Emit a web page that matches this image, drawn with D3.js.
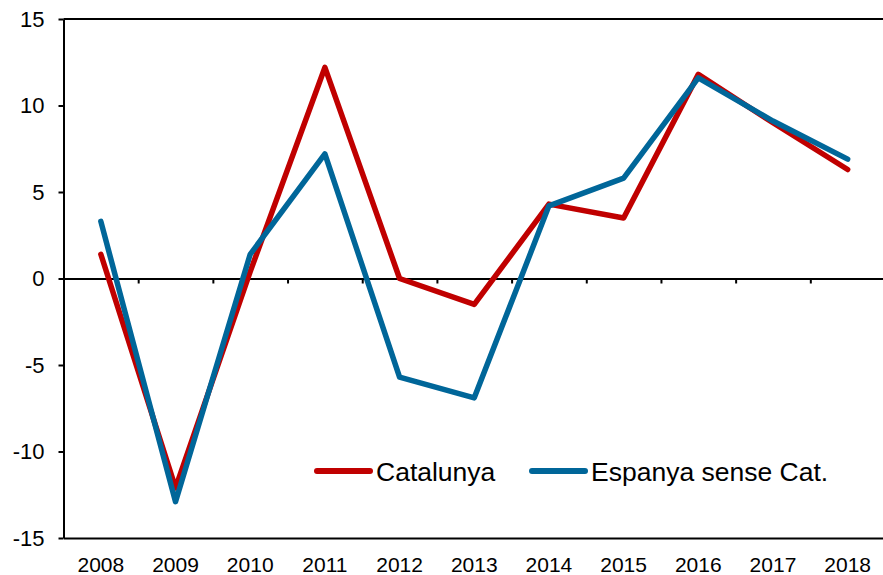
<!DOCTYPE html>
<html>
<head>
<meta charset="utf-8">
<script src="https://cdn.jsdelivr.net/npm/d3@7"></script>
<style>
body { margin: 0; background: #fff; }
text { font-family: "Liberation Sans", Arial, sans-serif; fill: #000; }
</style>
</head>
<body>
<script>
// Years and series (annual % change)
const years = ["2008","2009","2010","2011","2012","2013","2014","2015","2016","2017","2018"];
const catalunya = [1.4, -12.1, 0.4, 12.2, 0.0, -1.5, 4.3, 3.5, 11.8, 9.0, 6.3];
const espanya = [3.3, -12.9, 1.4, 7.2, -5.7, -6.9, 4.2, 5.8, 11.6, 9.1, 6.9];
const yTicks = [-15, -10, -5, 0, 5, 10, 15];

const seriesNames = ["Catalunya", "Espanya sense Cat."];
const colors = ["#c00000", "#006699"];

const width = 883;
const height = 575;
const margin = {top:19, right:-2, bottom:37, left:63.5};

const svg = d3.select("body")
.append("svg")
.attr("width", width)
.attr("height", height);

// X scale (years as bands)
const x = d3.scaleBand()
.domain(years)
.range([margin.left, width - margin.right]);

// edges between bands, for the ticks on the zero line
const xEdge = d3.scaleLinear()
.domain([0, years.length])
.range(x.range());

const y = d3.scaleLinear()
.domain([-15, 15])
.range([height - margin.bottom, margin.top]);

// Y axis (plain hyphen for negatives, like the original)
const yAxis = svg.append("g")
.attr("transform","translate("+margin.left+",0)")
.call(d3.axisLeft(y).tickValues(yTicks).tickFormat(function(d){ return String(d); })
.tickSize(5).tickSizeOuter(0).tickPadding(14));
yAxis.selectAll("text").attr("font-size","22px");

// Bottom border with year labels
const xAxis = svg.append("g")
.attr("transform","translate(0,"+(height-margin.bottom)+")")
.call(d3.axisBottom(x).tickSize(0).tickSizeOuter(0).tickPadding(19));
xAxis.selectAll("text").attr("font-size","21px");

// Top border
svg.append("line")
.attr("x1", margin.left)
.attr("x2", width - margin.right)
.attr("y1", y(15))
.attr("y2", y(15));

// Zero line with ticks between years
svg.append("g")
.attr("transform","translate(0,"+y(0)+")")
.call(d3.axisBottom(xEdge).tickValues(d3.range(1, years.length)).tickFormat("").tickSize(5).tickSizeOuter(0));

svg.selectAll(".domain, .tick line, line")
.attr("stroke","#000")
.attr("stroke-width",2);

// Lines
const line = d3.line()
.x(function(d,i){ return x(years[i]) + x.bandwidth()/2; })
.y(function(d){ return y(d); });

[catalunya, espanya].forEach(function(s, i){
svg.append("path")
.datum(s)
.attr("d", line)
.attr("fill","none")
.attr("stroke", colors[i])
.attr("stroke-width",5.5)
.attr("stroke-linejoin","round")
.attr("stroke-linecap","round");
});

// Legend
const legendX = [317, 532];
const legend = svg.append("g")
.attr("transform","translate(0,471)");

seriesNames.forEach(function(name, i){
legend.append("line")
.attr("x1", legendX[i])
.attr("x2", legendX[i] + 53)
.attr("y1", 0)
.attr("y2", 0)
.attr("stroke", colors[i])
.attr("stroke-width",6)
.attr("stroke-linecap","round");
legend.append("text")
.attr("x", legendX[i] + 59)
.attr("y", 9.5)
.attr("font-size","26.5px")
.text(name);
});
</script>
</body>
</html>
